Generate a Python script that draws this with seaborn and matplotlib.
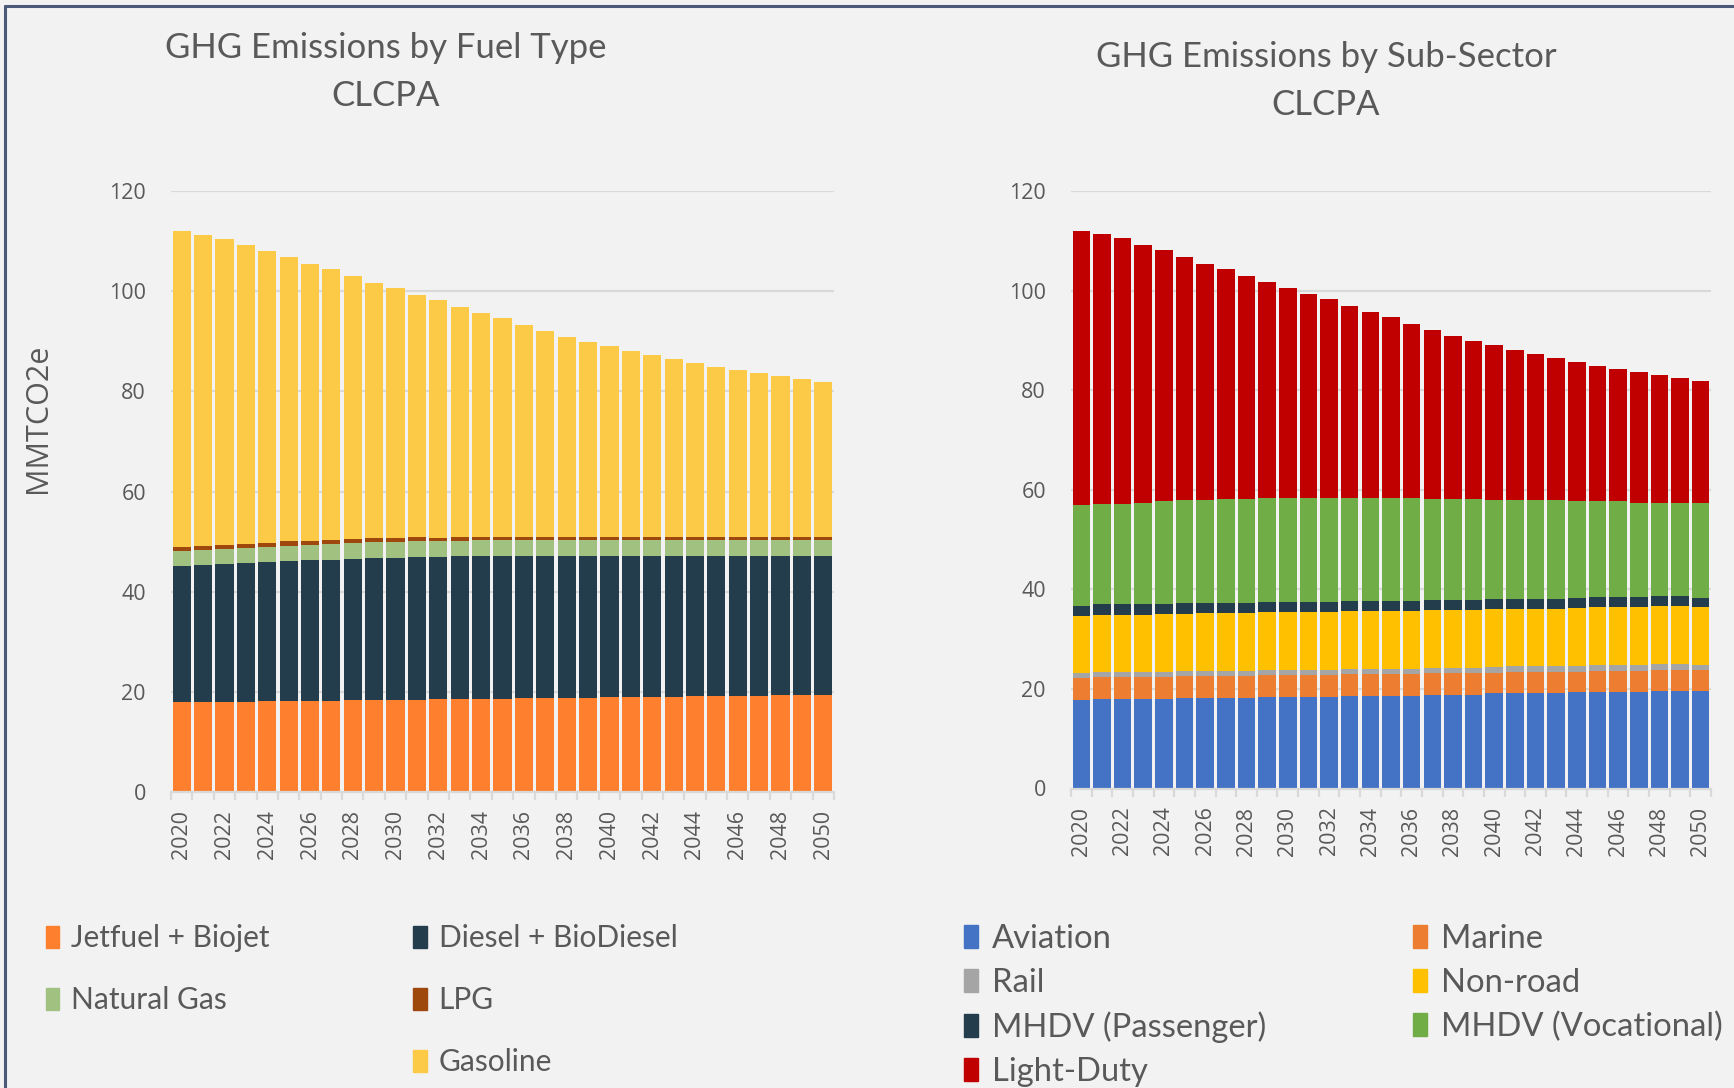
import numpy as np
import matplotlib.pyplot as plt
import seaborn as sns
from matplotlib.patches import Patch
from matplotlib.lines import Line2D

# --- data (MMTCO2e) ---
years = [str(y) for y in range(2020, 2051)]

# left chart: by fuel type
jetfuel = [17.9, 17.9, 17.9, 17.9, 18.1, 18.1, 18.1, 18.1, 18.3, 18.3, 18.3, 18.3, 18.5, 18.5, 18.5, 18.5,
           18.8, 18.8, 18.8, 18.8, 19.0, 19.0, 19.0, 19.0, 19.2, 19.2, 19.2, 19.2, 19.4, 19.4, 19.4]
diesel = [27.2, 27.4, 27.6, 27.8, 27.8, 28.0, 28.2, 28.2, 28.2, 28.5, 28.5, 28.7, 28.5, 28.6, 28.7, 28.7,
          28.4, 28.4, 28.4, 28.4, 28.2, 28.2, 28.2, 28.2, 28.0, 28.0, 28.0, 28.0, 27.8, 27.8, 27.8]
natural_gas = [3.0, 3.0, 3.0, 3.0, 3.0, 3.1, 3.1, 3.2, 3.2, 3.1, 3.1, 3.1, 3.1, 3.1, 3.1, 3.1,
               3.1, 3.1, 3.1, 3.1, 3.1, 3.1, 3.1, 3.1, 3.1, 3.1, 3.1, 3.1, 3.1, 3.1, 3.1]
lpg = [0.9, 0.9, 0.9, 0.9, 0.9, 0.9, 0.8, 0.8, 0.8, 0.8, 0.8, 0.8, 0.7, 0.7, 0.6, 0.6,
       0.6, 0.6, 0.6, 0.6, 0.6, 0.6, 0.6, 0.6, 0.6, 0.6, 0.6, 0.6, 0.6, 0.6, 0.6]
gasoline = [63.0, 62.1, 61.1, 59.6, 58.3, 56.7, 55.2, 54.1, 52.5, 51.0, 49.9, 48.4, 47.5, 46.0, 44.7, 43.7,
            42.3, 41.2, 40.0, 39.0, 38.2, 37.2, 36.3, 35.5, 34.8, 34.0, 33.3, 32.7, 32.2, 31.5, 30.9]

# right chart: by sub-sector
aviation = [17.7, 17.9, 17.9, 17.9, 17.9, 18.2, 18.2, 18.2, 18.2, 18.4, 18.4, 18.4, 18.4, 18.6, 18.6, 18.6,
            18.6, 18.8, 18.8, 18.8, 19.1, 19.1, 19.1, 19.1, 19.3, 19.3, 19.3, 19.3, 19.5, 19.5, 19.5]
marine = [4.4, 4.4, 4.4, 4.4, 4.4, 4.3, 4.3, 4.3, 4.3, 4.3, 4.3, 4.3, 4.3, 4.3, 4.3, 4.3,
          4.3, 4.3, 4.3, 4.3, 4.1, 4.3, 4.3, 4.3, 4.1, 4.3, 4.3, 4.3, 4.3, 4.3, 4.3]
rail = [1.0, 1.0, 1.0, 1.0, 1.1, 1.0, 1.1, 1.1, 1.1, 1.1, 1.1, 1.1, 1.1, 1.1, 1.1, 1.1,
        1.1, 1.1, 1.1, 1.1, 1.2, 1.2, 1.2, 1.2, 1.3, 1.2, 1.2, 1.2, 1.2, 1.2, 1.1]
non_road = [11.6, 11.6, 11.6, 11.6, 11.6, 11.6, 11.6, 11.6, 11.6, 11.6, 11.6, 11.6, 11.6, 11.6, 11.6, 11.6,
            11.6, 11.6, 11.6, 11.6, 11.6, 11.5, 11.5, 11.5, 11.5, 11.6, 11.6, 11.6, 11.6, 11.6, 11.6]
mhdv_passenger = [2.0, 2.1, 2.1, 2.1, 2.1, 2.1, 2.1, 2.1, 2.1, 2.1, 2.1, 2.1, 2.1, 2.1, 2.1, 2.0,
                  2.0, 2.0, 2.0, 2.0, 2.0, 2.0, 2.0, 2.0, 2.0, 2.0, 2.0, 2.0, 2.0, 2.0, 1.8]
mhdv_vocational = [20.3, 20.2, 20.2, 20.4, 20.6, 20.7, 20.6, 20.8, 20.8, 20.8, 20.8, 20.8, 20.8, 20.6, 20.6, 20.7,
                   20.7, 20.3, 20.3, 20.3, 19.9, 19.8, 19.8, 19.8, 19.5, 19.3, 19.3, 19.0, 18.8, 18.8, 19.1]
light_duty = [55.0, 54.1, 53.3, 51.8, 50.4, 48.9, 47.5, 46.3, 44.9, 43.4, 42.3, 41.0, 40.0, 38.6, 37.3, 36.3,
              34.9, 34.0, 32.8, 31.8, 31.2, 30.2, 29.3, 28.5, 28.0, 27.2, 26.5, 26.2, 25.7, 25.0, 24.4]

fuel_labels = ["Jetfuel + Biojet", "Diesel + BioDiesel", "Natural Gas", "LPG", "Gasoline"]
fuel_colors = ["#FE7F2D", "#233D4D", "#A1C181", "#9E480E", "#FCCA46"]
sector_labels = ["Aviation", "Marine", "Rail", "Non-road", "MHDV (Passenger)",
                 "MHDV (Vocational)", "Light-Duty"]
sector_colors = ["#4472C4", "#ED7D31", "#A5A5A5", "#FFC000", "#233D4D", "#70AD47", "#C00000"]

BG = "#F2F2F2"
GRID = "#D9D9D9"
TXT = "#595959"

sns.set_theme(style="white")
plt.rcParams['font.family'] = ['Open Sans', 'DejaVu Sans']

fig = plt.figure(figsize=(17.34, 10.88), dpi=100, facecolor=BG)
W, H = 1734, 1088


def frac_box(x0, x1, y_top, y_bot):
    return [x0 / W, 1 - y_bot / H, (x1 - x0) / W, (y_bot - y_top) / H]


def stacked(ax, layers, colors):
    # cumulative tops, drawn from the tallest down so lower segments sit on top
    tops = np.cumsum(np.array(layers), axis=0)
    for top, color in reversed(list(zip(tops, colors))):
        sns.barplot(x=years, y=top, color=color, saturation=1, width=0.85,
                    linewidth=0, errorbar=None, ax=ax)
    ax.set_facecolor(BG)
    ax.set_xlim(-0.5, len(years) - 0.5)
    ax.set_ylim(0, 120)
    ax.set_yticks(range(0, 121, 20))
    ax.yaxis.grid(True, color=GRID, lw=1.6)
    ax.xaxis.grid(False)
    ax.set_axisbelow(True)
    for s in ["top", "right", "left"]:
        ax.spines[s].set_visible(False)
    ax.spines["bottom"].set_color(GRID)
    ax.spines["bottom"].set_linewidth(1.6)
    ax.set_xticks(range(0, len(years), 2), years[::2], rotation=90)
    ax.set_xticks(np.arange(-0.5, len(years), 1), minor=True)
    ax.tick_params(axis="x", which="major", length=0, pad=13, labelsize=15.5, labelcolor=TXT)
    ax.tick_params(axis="x", which="minor", length=6, width=1.6, color=GRID, bottom=True)
    ax.tick_params(axis="y", length=0, pad=18, labelsize=15.5, labelcolor=TXT)
    ax.set_xlabel("")
    ax.set_ylabel("")


ax1 = fig.add_axes(frac_box(171, 834, 191, 792))
stacked(ax1, [jetfuel, diesel, natural_gas, lpg, gasoline], fuel_colors)

ax2 = fig.add_axes(frac_box(1071, 1711, 191, 788.5))
stacked(ax2, [aviation, marine, rail, non_road, mhdv_passenger, mhdv_vocational, light_duty],
        sector_colors)

# titles
title_font = ['Lato', 'DejaVu Sans']
fig.text(386 / W, 1 - 48 / H, "GHG Emissions by Fuel Type", ha="center", va="center",
         fontsize=25, color=TXT, family=title_font)
fig.text(386 / W, 1 - 96 / H, "CLCPA", ha="center", va="center", fontsize=25, color=TXT, family=title_font)
fig.text(1326 / W, 1 - 57 / H, "GHG Emissions by Sub-Sector", ha="center", va="center",
         fontsize=25, color=TXT, family=title_font)
fig.text(1326 / W, 1 - 105 / H, "CLCPA", ha="center", va="center", fontsize=25, color=TXT, family=title_font)

fig.text(38 / W, 1 - 418 / H, "MMTCO2e", rotation=90, ha="center", va="center", fontsize=22, color=TXT)

# legends (column-major, with a blank slot like the original)
fp = [Patch(color=c, label=l) for l, c in zip(fuel_labels, fuel_colors)]
blank = Patch(color="none", label="")
fig.legend(handles=[fp[0], fp[2], blank, fp[1], fp[3], fp[4]], ncol=2,
           loc="upper left", bbox_to_anchor=(46 / W, 1 - 924 / H), frameon=False,
           borderpad=0, borderaxespad=0, handlelength=0.45, handleheight=0.75,
           handletextpad=0.4, labelspacing=1.14, columnspacing=4.8,
           prop={"family": title_font, "size": 21.5}, labelcolor=TXT)

sp = [Patch(color=c, label=l) for l, c in zip(sector_labels, sector_colors)]
fig.legend(handles=[sp[0], sp[2], sp[4], sp[6], sp[1], sp[3], sp[5]], ncol=2,
           loc="upper left", bbox_to_anchor=(964 / W, 1 - 924 / H), frameon=False,
           borderpad=0, borderaxespad=0, handlelength=0.42, handleheight=0.7,
           handletextpad=0.42, labelspacing=0.42, columnspacing=4.5,
           prop={"family": title_font, "size": 23.6}, labelcolor=TXT)

# frame lines (top and left only, as in the screenshot)
fig.add_artist(Line2D([4.5 / W, 1], [1 - 5.5 / H, 1 - 5.5 / H], transform=fig.transFigure,
                      color="#4A5A78", lw=2.2))
fig.add_artist(Line2D([4.5 / W, 4.5 / W], [0, 1 - 5.5 / H], transform=fig.transFigure,
                      color="#4A5A78", lw=2.2))

fig.savefig("out.png", dpi=100, facecolor=BG)
